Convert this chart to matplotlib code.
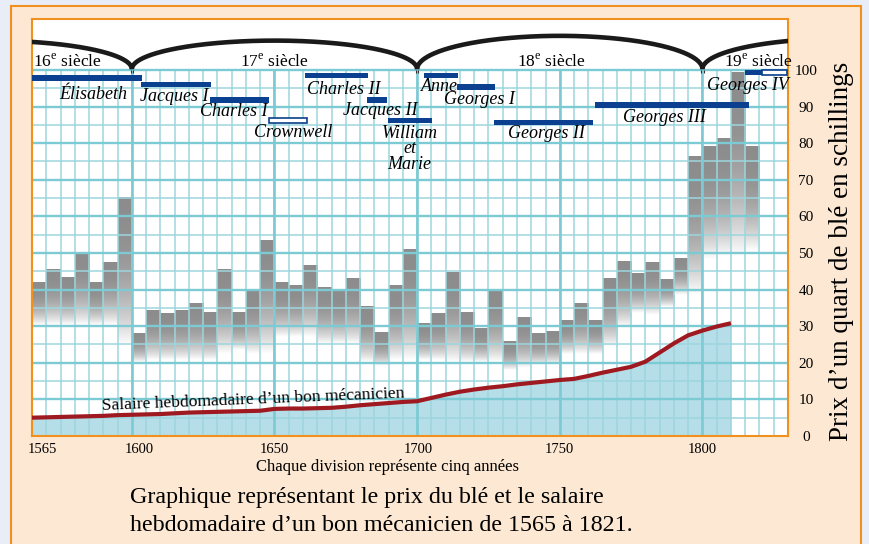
import numpy as np
import matplotlib
matplotlib.use("Agg")
import matplotlib.pyplot as plt
from matplotlib.patches import Rectangle

plt.rcParams['font.family'] = ['Liberation Serif', 'DejaVu Serif']
plt.rcParams['mathtext.fontset'] = 'custom'
plt.rcParams['mathtext.rm'] = 'Liberation Serif'

# ---------------- data ----------------
wheat_years = list(range(1565, 1820, 5))
wheat_price = [42.1, 45.5, 43.4, 49.6, 42.1, 47.5, 65.0,
               28.1, 34.1, 33.5, 34.1, 36.0, 33.8,
               45.5, 33.8, 39.7, 53.5, 42.0, 41.1, 46.5, 40.5, 39.3, 42.8, 35.5, 28.1, 41.1, 50.9,
               30.7, 33.3, 44.8, 33.8, 29.5, 39.5, 25.9, 32.3, 28.1, 28.6, 31.6, 36.3, 31.6,
               43.1, 47.8, 44.3, 47.3, 42.9, 48.6, 76.2, 79.0, 81.4, 99.3, 79.0]
# level where each bar's grey gradient has faded to white (visual style)
fade_floor = [30.4, 30.4, 30.4, 30.4, 30.4, 30.4, 24.5,
              20.3, 20.7, 20.7, 20.7, 20.7, 20.7,
              22.5, 23.5, 22.5, 22.5, 27.0, 27.0, 27.0, 25.0, 25.0, 25.0, 20.3, 19.0, 20.7, 20.7,
              20.7, 20.7, 20.3, 20.3, 20.3, 20.3, 18.0, 18.5, 19.4, 19.8, 22.5, 22.5, 22.5,
              24.4, 29.9, 33.5, 33.0, 35.3, 38.5, 38.5, 48.0, 49.0, 49.0, 50.4]

wage_years = list(range(1565, 1815, 5))
wages = [5.0, 5.1, 5.2, 5.3, 5.4, 5.5, 5.7, 5.8, 5.9, 6.0, 6.2, 6.4, 6.5, 6.6, 6.7, 6.8, 6.9,
         7.4, 7.5, 7.5, 7.6, 7.7, 8.0, 8.4, 8.7, 9.0, 9.3, 9.5, 10.4, 11.3, 12.1, 12.7, 13.2,
         13.6, 14.1, 14.5, 14.9, 15.3, 15.6, 16.4, 17.3, 18.1, 18.9, 20.3, 22.8, 25.3, 27.5,
         28.8, 29.9, 30.8]

monarchs = ['Élisabeth', 'Jacques I', 'Charles I', 'Crownwell', 'Charles II', 'Jacques II',
            'William\net\nMarie', 'Anne', 'Georges I', 'Georges II', 'Georges III', 'Georges IV']
reign_start = [1564.6, 1603.2, 1627.4, 1648.0, 1660.7, 1682.4, 1689.7, 1702.4, 1714.0, 1726.9, 1762.3, 1814.9]
reign_end = [1603.6, 1627.6, 1648.0, 1661.3, 1682.7, 1689.3, 1705.1, 1714.2, 1727.3, 1761.5, 1816.3, 1820.9]
reign_level = [97.8, 96.1, 91.8, 86.1, 98.4, 91.8, 86.1, 98.4, 95.3, 85.7, 90.4, 99.2]
commonwealth = [False, False, False, True, False, False, False, False, False, False, False, False]
# Georges IV reign continuing (outlined)
g4_continue = (1820.9, 1829.6, 99.2)
label_x = [1586.4, 1615.0, 1635.8, 1656.5, 1674.2, 1687.2, 1697.4, 1707.9, 1722.0, 1745.5, 1786.8, 1816.1]
label_y = [92.1, 91.5, 87.5, 81.6, 93.4, 87.7, 81.5, 94.3, 90.7, 81.5, 85.7, 94.5]

centuries = [1500, 1600, 1700, 1800]
century_labels = ['16$^{\\mathrm{e}}$ siècle', '17$^{\\mathrm{e}}$ siècle',
                  '18$^{\\mathrm{e}}$ siècle', '19$^{\\mathrm{e}}$ siècle']
century_peak = [108.0, 108.0, 109.3, 108.6]
century_label_x = [1565.5, 1649.8, 1747.0, 1819.7]

xtick_labels = ['1565', '1600', '1650', '1700', '1750', '1800']
xtick_pos = [1568.5, 1602.7, 1650, 1700.5, 1750, 1800]
ytick_vals = list(range(0, 101, 10))

# ---------------- colours ----------------
BG = '#e9edf7'
PANEL = '#fde9d3'
ORANGE = '#f0901e'
GRID_MIN = '#9cd6de'
GRID_MAJ = '#7ccbd4'
ROYAL = '#0b3f8f'
RED = '#9f1a20'
FILL = '#b6dee8'

W, H = 869, 544
fig = plt.figure(figsize=(W / 100, H / 100), dpi=100)
fig.patch.set_facecolor(BG)
fig.add_artist(Rectangle((10.5 / W, -0.02), (861 - 10.5) / W, 1.02 - 6 / H,
                         transform=fig.transFigure, facecolor=PANEL,
                         edgecolor=ORANGE, lw=1.5, zorder=0))

ax = fig.add_axes([32 / W, 1 - 436 / H, (788 - 32) / W, (436 - 19) / H])
ax.set_facecolor('white')
XMIN, XMAX, YMAX = 1565, 1830, 113.9

# wheat bars with grey gradient
grey_top = 0.55
N = 200
for yr, top, floor in zip(wheat_years, wheat_price, fade_floor):
    t = np.linspace(1, 0, N)  # bottom (floor) -> top
    vals = grey_top + (1 - grey_top) * t ** 2.5
    img = np.tile(vals[:, None], (1, 2))
    ax.imshow(img, cmap='gray', vmin=0, vmax=1, origin='lower',
              extent=[yr, yr + 5, floor, top], aspect='auto',
              interpolation='bilinear', zorder=1)

# wage fill
ax.fill_between(wage_years, 0, wages, color=FILL, lw=0, zorder=1.5)

# grid
minor_x = np.arange(XMIN, XMAX + 0.1, 5)
ax.vlines(minor_x, 0, 100, color=GRID_MIN, lw=1.1, zorder=2)
ax.vlines([1600, 1650, 1700, 1750, 1800], 0, 100, color=GRID_MAJ, lw=1.9, zorder=2.1)
ax.hlines(np.arange(5, 101, 10), XMIN, XMAX, color=GRID_MIN, lw=1.1, zorder=2)
ax.hlines(np.arange(10, 101, 10), XMIN, XMAX, color=GRID_MAJ, lw=1.7, zorder=2.1)

# wage line
ax.plot(wage_years, wages, color=RED, lw=3.0, solid_capstyle='butt',
        solid_joinstyle='round', zorder=4)
ax.text(1589.5, 7.1, 'Salaire hebdomadaire d\u2019un bon mécanicien', fontsize=12.6,
        rotation=2.36, rotation_mode='anchor', ha='left', va='baseline', zorder=5)

# monarch reigns
BAR_H = 1.45
for name, s, e, lvl, cw, lx, ly in zip(monarchs, reign_start, reign_end, reign_level,
                                       commonwealth, label_x, label_y):
    if cw:
        ax.barh(lvl, e - s, left=s, height=BAR_H * 0.9, facecolor='white',
                edgecolor=ROYAL, lw=1.2, zorder=5)
    else:
        ax.barh(lvl, e - s, left=s, height=BAR_H, color=ROYAL, lw=0, zorder=5)
    for i, line in enumerate(name.split('\n')):
        ax.annotate(line, xy=(lx, ly), xytext=(0, -15.5 * i), textcoords='offset pixels',
                    ha='center', va='baseline', fontsize=13, style='italic',
                    zorder=6, annotation_clip=False)
s, e, lvl = g4_continue
ax.barh(lvl, e - s, left=s, height=BAR_H * 0.9, facecolor='white',
        edgecolor=ROYAL, lw=1.2, zorder=5)

# century braces
theta = np.linspace(0, np.pi, 400)
BASE = 100.2
for c, pk, lab, lxx in zip(centuries, century_peak, century_labels, century_label_x):
    cx = c + 50
    ax.plot(cx + 50 * np.cos(theta), BASE + (pk - BASE) * np.sin(theta),
            color='#1a1a1a', lw=3.3, solid_capstyle='butt', zorder=6)
    ax.text(lxx, 100.9, lab, fontsize=12.5, ha='left' if c == 1500 else 'center',
            va='baseline', zorder=7, clip_on=False)
for c in centuries[1:]:
    ax.vlines([c - 0.45, c + 0.45], 99.1, 100.0, color='#333333', lw=0.8, zorder=6)

ax.set_xlim(XMIN, XMAX)
ax.set_ylim(0, YMAX)

# axes styling
for sp in ax.spines.values():
    sp.set_color(ORANGE)
    sp.set_linewidth(1.5)
ax.set_xticks(xtick_pos)
ax.set_xticklabels(xtick_labels)
ax.tick_params(axis='x', length=0, pad=5, labelsize=10.5)
ax.yaxis.tick_right()
ax.set_yticks(ytick_vals)
ax.set_yticklabels([str(v) for v in ytick_vals])
ax.tick_params(axis='y', length=0, pad=13, labelsize=11)
for lab in ax.get_yticklabels():
    lab.set_ha('center')

ax.text(1.0705, 0.4436, 'Prix d\u2019un quart de blé en schillings', transform=ax.transAxes,
        rotation=90, ha='center', va='center', fontsize=19.5)

fig.text(387 / W, 1 - 467 / H, 'Chaque division représente cinq années',
         ha='center', va='center', fontsize=12)
fig.text(130 / W, 1 - 503 / H, 'Graphique représentant le prix du blé et le salaire',
         ha='left', va='baseline', fontsize=17.3)
fig.text(130 / W, 1 - 531 / H, 'hebdomadaire d\u2019un bon mécanicien de 1565 à 1821.',
         ha='left', va='baseline', fontsize=17.3)

fig.savefig('out.png', dpi=100, facecolor=fig.get_facecolor())
